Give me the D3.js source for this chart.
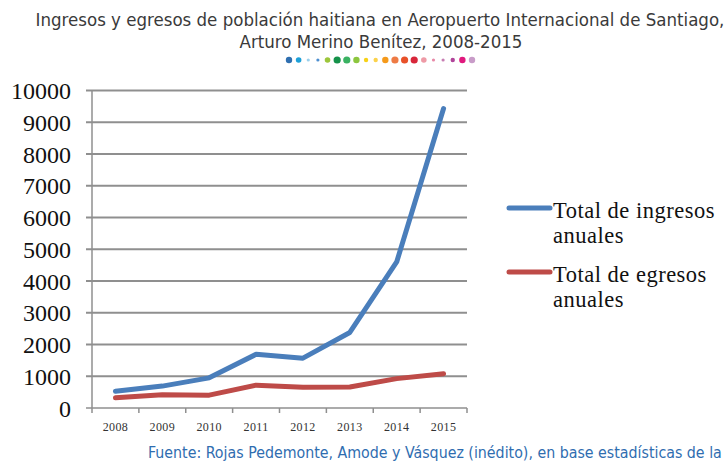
<!DOCTYPE html>
<html>
<head>
<meta charset="utf-8">
<script src="https://cdn.jsdelivr.net/npm/d3@7"></script>
<style>
  html, body { margin: 0; padding: 0; background: #fff; }
  svg { display: block; }
</style>
</head>
<body>
<svg id="chart" width="724" height="464"></svg>
<script>
// Yearly arrivals and departures of Haitian nationals at Santiago airport
const years = ["2008", "2009", "2010", "2011", "2012", "2013", "2014", "2015"];
const ingresos = [530, 690, 950, 1690, 1570, 2380, 4600, 9430];
const egresos = [320, 420, 405, 720, 650, 660, 925, 1080];
const yTicks = [0, 1000, 2000, 3000, 4000, 5000, 6000, 7000, 8000, 9000, 10000];
const seriesNames = ["Total de ingresos anuales", "Total de egresos anuales"];
const seriesColors = ["#4a7ebb", "#be4b48"];
const dotColors = ["#2f6fb0", "#1ea0d8", "#9ad0ec", "#4d8fd0", "#9cc63b", "#15924a", "#3ab262", "#8cc63e",
                   "#f7d117", "#fbd24c", "#f59a1b", "#ee7b45", "#e8512a", "#d8263a", "#ee9aa6", "#e88aa8",
                   "#c77eb3", "#b0449a", "#e0197e", "#c89cc8"];
const dotSizes = [3.2, 2.8, 1.6, 1.6, 2.8, 3.6, 3.6, 3.2, 2.2, 2.2, 3.2, 3.6, 3.6, 3.6, 2.8, 1.6, 1.6, 2.2, 3.2, 3.2];

const svg = d3.select("#chart");

// Title
const title = svg.append("g")
  .attr("font-family", "'Liberation Sans Narrow', 'DejaVu Sans Condensed', 'Roboto Condensed', sans-serif")
  .attr("fill", "#3a3a3a")
  .attr("text-anchor", "middle");
title.append("text").attr("x", 380).attr("y", 26).attr("font-size", 18.5)
  .text("Ingresos y egresos de población haitiana en Aeropuerto Internacional de Santiago,");
title.append("text").attr("x", 381).attr("y", 48).attr("font-size", 18.5)
  .text("Arturo Merino Benítez, 2008-2015");

// Decorative coloured dot row under the title
const dotX = d3.scaleLinear().domain([0, dotColors.length - 1]).range([289, 472]);
svg.append("g").selectAll("circle").data(dotColors).join("circle")
  .attr("cx", (d, i) => dotX(i))
  .attr("cy", 60)
  .attr("r", (d, i) => dotSizes[i])
  .attr("fill", d => d);

// Plot area
const x = d3.scaleBand().domain(years).range([92, 467]);
const y = d3.scaleLinear().domain([0, 10000]).range([408, 90.5]);

// Horizontal gridlines (with short outer ticks on the left)
svg.append("g").selectAll("line").data(yTicks.filter(d => d > 0)).join("line")
  .attr("x1", 86).attr("x2", 467)
  .attr("y1", d => y(d)).attr("y2", d => y(d))
  .attr("stroke", "#8f8f8f").attr("stroke-width", 2);

// Y axis line and labels
svg.append("line").attr("x1", 92).attr("x2", 92).attr("y1", y(10000)).attr("y2", y(0))
  .attr("stroke", "#8f8f8f").attr("stroke-width", 1.5);
svg.append("g").selectAll("text").data(yTicks).join("text")
  .attr("x", 71).attr("y", d => y(d) + 8.5)
  .attr("text-anchor", "end")
  .attr("font-family", "'Liberation Serif', 'DejaVu Serif', serif")
  .attr("font-size", 24)
  .attr("fill", "#111")
  .text(d => d);

// X axis: baseline plus downward ticks at band boundaries
svg.append("line").attr("x1", 86).attr("x2", 467).attr("y1", y(0)).attr("y2", y(0))
  .attr("stroke", "#8f8f8f").attr("stroke-width", 1.5);
const bounds = years.map(d => x(d)).concat([x.range()[1]]);
svg.append("g").selectAll("line").data(bounds).join("line")
  .attr("x1", d => d).attr("x2", d => d)
  .attr("y1", y(0)).attr("y2", y(0) + 5)
  .attr("stroke", "#8f8f8f").attr("stroke-width", 1.5);
svg.append("g").selectAll("text").data(years).join("text")
  .attr("x", d => x(d) + x.bandwidth() / 2)
  .attr("y", 431)
  .attr("text-anchor", "middle")
  .attr("font-family", "'Liberation Serif', 'DejaVu Serif', serif")
  .attr("font-size", 12)
  .attr("letter-spacing", 0.4)
  .attr("fill", "#333")
  .text(d => d);

// Series lines
const line = d3.line()
  .x((d, i) => x(years[i]) + x.bandwidth() / 2)
  .y(d => y(d));
[egresos, ingresos].forEach((vals, k) => {
  svg.append("path")
    .datum(vals)
    .attr("d", line)
    .attr("fill", "none")
    .attr("stroke", seriesColors[1 - k])
    .attr("stroke-width", 5)
    .attr("stroke-linejoin", "round")
    .attr("stroke-linecap", "round");
});

// Legend
const legendY = [208, 272];
const legend = svg.append("g");
seriesNames.forEach((name, i) => {
  legend.append("line")
    .attr("x1", 509).attr("x2", 550)
    .attr("y1", legendY[i]).attr("y2", legendY[i])
    .attr("stroke", seriesColors[i]).attr("stroke-width", 5)
    .attr("stroke-linecap", "round");
  const words = name.split(" ");
  const t = legend.append("text")
    .attr("font-family", "'Liberation Serif', 'DejaVu Serif', serif")
    .attr("font-size", 22.5)
    .attr("letter-spacing", 0.5)
    .attr("fill", "#111");
  t.append("tspan").attr("x", 553).attr("y", legendY[i] + 10).text(words.slice(0, -1).join(" "));
  t.append("tspan").attr("x", 553).attr("y", legendY[i] + 35).text(words[words.length - 1]);
});

// Source note
svg.append("text")
  .attr("x", 148).attr("y", 458)
  .attr("font-family", "'Liberation Sans Narrow', 'DejaVu Sans Condensed', sans-serif")
  .attr("font-size", 15.8)
  .attr("fill", "#2f6db0")
  .text("Fuente: Rojas Pedemonte, Amode y Vásquez (inédito), en base estadísticas de la");
</script>
</body>
</html>
